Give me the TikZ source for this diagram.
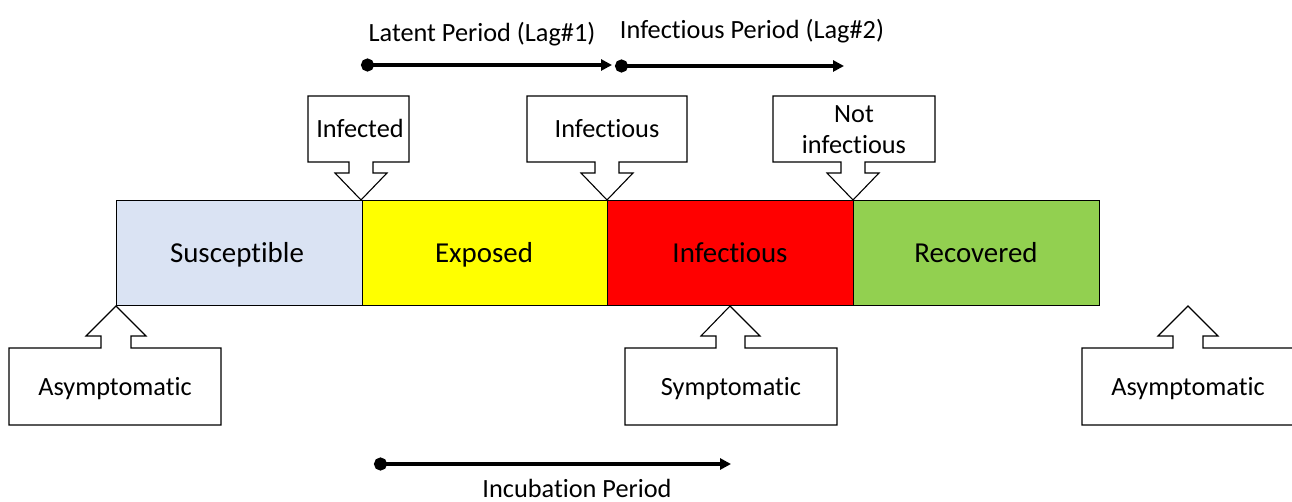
\documentclass[tikz,border=0pt]{standalone}
\usepackage{fontspec}
\setmainfont{Carlito}[Ligatures={NoCommon}]
\usetikzlibrary{arrows.meta}
\definecolor{suscol}{HTML}{DAE3F3}
\definecolor{expcol}{HTML}{FFFF00}
\definecolor{infcol}{HTML}{FF0000}
\definecolor{reccol}{HTML}{92D050}
\tikzset{
  stage/.style={draw=black, line width=1pt, minimum width=246pt, minimum height=105pt, inner sep=0pt, anchor=north west},
  stagetxt/.style={font=\fontsize{28.9}{34}\selectfont, inner sep=0pt, anchor=base},
  callout/.style={draw=black, line width=1.1pt, fill=white, line join=miter},
  lbl/.style={font=\fontsize{26.3}{31}\selectfont, inner sep=0pt, anchor=base},
  period/.style={line width=3.5pt, {Circle[length=13pt]}-{Triangle[length=11pt,width=11pt]}},
}
\begin{document}
\begin{tikzpicture}[x=1pt,y=-1pt]
\useasboundingbox (0,0) rectangle (1292,502);
\begin{scope}
\clip (0,0) rectangle (1292,502);
% stages
\node[stage, fill=suscol] (sus) at (116,200) {};
\node[stage, fill=expcol] (exp) at (362,200) {};
\node[stage, fill=infcol] (inf) at (607,200) {};
\node[stage, fill=reccol] (rec) at (853,200) {};
\node[stagetxt] (sustxt) at (237,263) {Susceptible};
\node[stagetxt] (exptxt) at (484,263) {Exposed};
\node[stagetxt] (inftxt) at (730,263) {Infectious};
\node[stagetxt] (rectxt) at (976,263) {Recovered};

% top callouts
\draw[callout] (308,96) -- (409,96) -- (409,162) -- (373,162) -- (373,173) -- (387,173) -- (361,200) -- (335,173) -- (349,173) -- (349,162) -- (308,162) -- cycle;
\node[lbl] (infected) at (360,138) {Infected};
\draw[callout] (527,96) -- (687,96) -- (687,162) -- (619,162) -- (619,173) -- (633,173) -- (607,200) -- (581,173) -- (595,173) -- (595,162) -- (527,162) -- cycle;
\node[lbl] (infectious) at (607,138) {Infectious};
\draw[callout] (773,96) -- (935,96) -- (935,162) -- (865,162) -- (865,173) -- (879,173) -- (853,200) -- (827,173) -- (841,173) -- (841,162) -- (773,162) -- cycle;
\node[lbl] (notinf1) at (854,123) {Not};
\node[lbl] (notinf2) at (854,154) {infectious};

% bottom callouts
\draw[callout] (9,425) -- (221,425) -- (221,348) -- (131,348) -- (131,336) -- (146,336) -- (116,306) -- (86,336) -- (101,336) -- (101,348) -- (9,348) -- cycle;
\node[lbl] (asym1) at (115,395) {Asymptomatic};
\draw[callout] (625,425) -- (837,425) -- (837,348) -- (745,348) -- (745,336) -- (760,336) -- (730,306) -- (701,336) -- (716,336) -- (716,348) -- (625,348) -- cycle;
\node[lbl] (sym) at (731,395) {Symptomatic};
\draw[callout] (1082,425) -- (1296,425) -- (1296,348) -- (1203,348) -- (1203,336) -- (1218,336) -- (1188,306) -- (1158,336) -- (1173,336) -- (1173,348) -- (1082,348) -- cycle;
\node[lbl] (asym2) at (1188,395) {Asymptomatic};
\end{scope}

% period arrows
\coordinate (lat0) at (361,65);
\coordinate (lat1) at (612,65);
\coordinate (ip0) at (615,66);
\coordinate (ip1) at (844,66);
\coordinate (inc0) at (374,464);
\coordinate (inc1) at (731,464);
\draw[period] (lat0) -- (lat1);
\draw[period] (ip0) -- (ip1);
\draw[period] (inc0) -- (inc1);
\node[lbl] (latlbl) at (482,42) {Latent Period (Lag\#1)};
\node[lbl] (iplbl) at (752,39) {Infectious Period (Lag\#2)};
\node[lbl] (inclbl) at (577,497) {Incubation Period};
\end{tikzpicture}
\end{document}
